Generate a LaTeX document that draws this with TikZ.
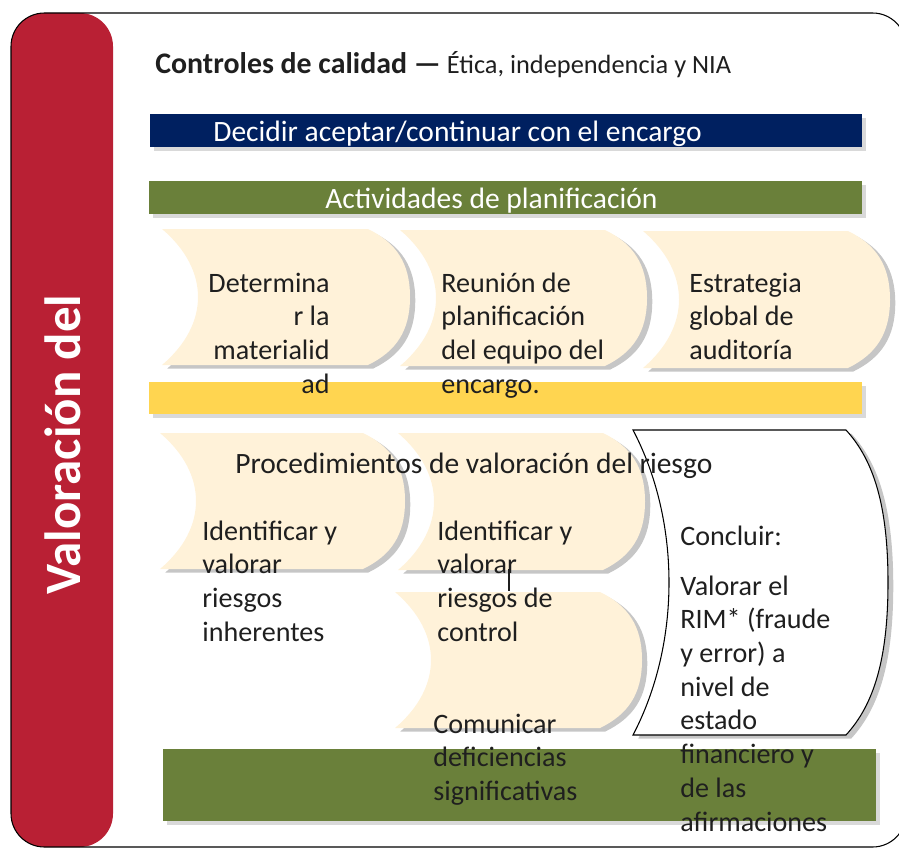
\documentclass[tikz,border=0pt]{standalone}
\usepackage{fontspec}
\setmainfont{Carlito}
\usetikzlibrary{shadows}
\definecolor{myNavy}{HTML}{002060}
\definecolor{myOlive}{HTML}{6A803A}
\definecolor{myGold}{HTML}{FFD550}
\definecolor{myCream}{HTML}{FFF2D9}
\definecolor{myCrimson}{HTML}{B92034}
\colorlet{colorText}{black!88}

% tab shape: concave left side, bulging right side
\newcommand{\tabshape}[5][]{%
  \path[#1] (#2,#3) -- ({#4-42},#3)
    .. controls ({#4-14},{#3+0.1*(#5-#3)}) and (#4,{#3+0.25*(#5-#3)}) .. (#4,{(#3+#5)/2})
    .. controls (#4,{#5-0.25*(#5-#3)}) and ({#4-14},{#5-0.1*(#5-#3)}) .. ({#4-42},#5)
    -- (#2,#5)
    .. controls ({#2+48},{#5-0.3*(#5-#3)}) and ({#2+48},{#3+0.3*(#5-#3)}) .. (#2,#3) -- cycle;}

\begin{document}
\begin{tikzpicture}[x=0.02cm,y=-0.02cm,
    bar/.style={drop shadow={shadow xshift=2.5pt,shadow yshift=-2.5pt,opacity=0.3}},
    tab/.style={fill=myCream,drop shadow={shadow xshift=3pt,shadow yshift=-2pt,opacity=0.45}},
    txt/.style={anchor=base west,inner sep=0pt,text=colorText,
      font=\fontsize{16.8}{19.2}\selectfont},
    block/.style={txt,text width=4cm,align=flush left,font=\fontsize{16}{19.2}\selectfont,
      execute at begin node={\spaceskip=0pt\relax}},
    bartxt/.style={txt,text=white}]
        \useasboundingbox (0,0) rectangle (899,848);
        \fill[myCrimson,rounded corners=19pt] (11,13) rectangle (113,847);
        \draw[line width=0.6pt,rounded corners=19pt] (11,13) rectangle (906,847);
        \node[rotate=90,anchor=base west,inner sep=0pt,text=white,
          font=\fontsize{29}{33}\selectfont\bfseries] (valoracion) at (80,595) {Valoración del};
        \node[txt,font=\fontsize{15}{18}\selectfont] (title) at (155,74)
          {{\fontsize{17}{18}\selectfont\bfseries Controles de calidad —} Ética, independencia y NIA};
        % bars
        \fill[myNavy,bar] (150,114) rectangle (862,147);
        \node[bartxt] (aceptar) at (213,141) {Decidir aceptar/continuar con el encargo};
        \fill[myOlive,bar] (149,181) rectangle (862,214);
        \node[bartxt] (planif) at (325,208) {Actividades de planificación};
        \fill[myGold,bar] (149,382) rectangle (862,414);
        \fill[myOlive,bar] (163,749) rectangle (876,821);
        % planning tabs
        \tabshape[tab]{162}{229}{410}{365}
        \tabshape[tab]{400}{230}{647}{366}
        \tabshape[tab]{643}{231}{890}{368}
        \node[block,anchor=base east,text width=3cm,align=flush right] (materialidad) at (330,292)
          {Determina\\r la\\materialid\\ad};
        \node[block] (reunion) at (441,292) {Reunión de\\planificación\\del equipo del\\encargo.};
        \node[block] (estrategia) at (689,292) {Estrategia\\global de\\auditoría};
        % risk assessment tabs
        \tabshape[tab]{160}{433}{405}{569}
        \tabshape[tab]{398}{433}{645}{570}
        \tabshape[tab]{395}{592}{642}{728}
        \tabshape[tab,fill=white,draw=black,line width=0.6pt]{633}{430}{888}{735}
        \coordinate (ctrlTop) at (509,569);
        \coordinate (ctrlBot) at (509,591);
        \draw[colorText,line width=0.6pt] (ctrlTop) -- (ctrlBot);
        \node[txt] (proced) at (235,473) {Procedimientos de valoración del riesgo};
        \node[block] (inherentes) at (202,540) {Identificar y\\valorar\\riesgos\\inherentes};
        \node[block] (control) at (437,540) {Identificar y\\valorar\\riesgos de\\control};
        \node[block] (comunicar) at (433,733) {Comunicar\\deficiencias\\significativas};
        \node[block] (concluir) at (680,545) {Concluir:};
        \node[block] (rim) at (680,595)
          {Valorar el\\RIM* (fraude\\y error) a\\nivel de\\estado\\financiero y\\de las\\afirmaciones};
      \end{tikzpicture}
\end{document}
